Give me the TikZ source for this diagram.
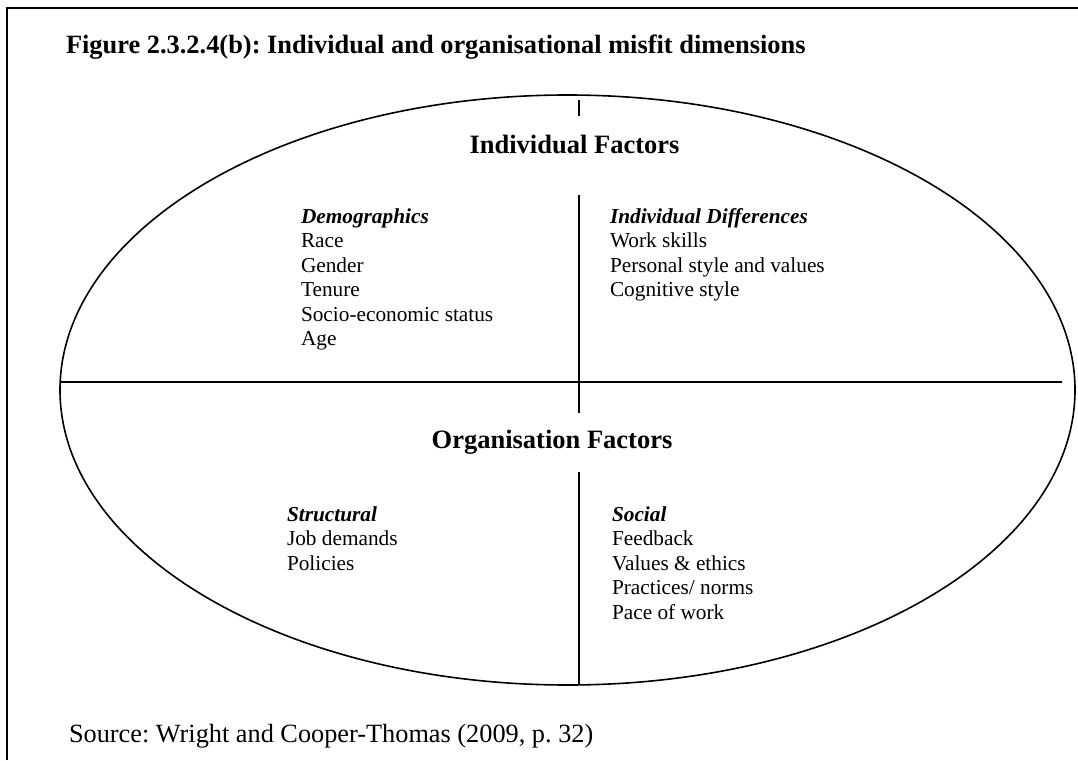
\documentclass[tikz,border=0pt]{standalone}
\usepackage{fontspec}
\setmainfont{Liberation Serif}
\frenchspacing
\begin{document}
\begin{tikzpicture}[x=1pt,y=-1pt,
  every node/.style={inner sep=0pt, outer sep=0pt},
  rule/.style={line width=1.3pt, black},
  oval/.style={line width=1.6pt, black},
  head/.style={font=\fontsize{26.5}{30}\selectfont\bfseries, anchor=base},
  title/.style={font=\fontsize{26.4}{30}\selectfont\bfseries, anchor=base west},
  sub/.style={font=\fontsize{21.3}{24.5}\selectfont\bfseries\itshape, anchor=base west},
  item/.style={font=\fontsize{21.3}{24.5}\selectfont, anchor=base west},
  src/.style={font=\fontsize{26.3}{30}\selectfont, anchor=base west}]
\useasboundingbox (0,0) rectangle (1078,760);
% frame
\draw[line width=1.6pt] (7,760) -- (7,8) -- (1078,8);
% title
\node[title] (title) at (66,53) {Figure 2.3.2.4(b): Individual and organisational misfit dimensions};
% ellipse
\draw[oval] (567.5,390) ellipse [x radius=507.5, y radius=295];
\coordinate (hl) at (60,382);
\coordinate (hr) at (1062,382);
\draw[rule] (hl) -- (hr);
% vertical pieces
\coordinate (t1) at (579,100); \coordinate (t2) at (579,116);
\coordinate (v1) at (579,195); \coordinate (v2) at (579,413);
\coordinate (v3) at (579,472); \coordinate (v4) at (579,685);
\draw[rule] (t1) -- (t2);
\draw[rule] (v1) -- (v2);
\draw[rule] (v3) -- (v4);
% headings
\node[head] (indf) at (574.5,153) {Individual Factors};
\node[head] (orgf) at (552,448) {Organisation Factors};
% demographics
\node[sub]  (dem) at (301,223) {Demographics};
\node[item] (d1) at (301,247.5) {Race};
\node[item] (d2) at (301,272) {Gender};
\node[item] (d3) at (301,296.5) {Tenure};
\node[item] (d4) at (301,321) {Socio-economic status};
\node[item] (d5) at (301,345.5) {Age};
% individual differences
\node[sub]  (idf) at (610,223) {Individual Differences};
\node[item] (i1) at (610,247.5) {Work skills};
\node[item] (i2) at (610,272) {Personal style and values};
\node[item] (i3) at (610,296.5) {Cognitive style};
% structural
\node[sub]  (str) at (287,521) {Structural};
\node[item] (s1) at (287,545.5) {Job demands};
\node[item] (s2) at (287,570) {Policies};
% social
\node[sub]  (soc) at (612,521) {Social};
\node[item] (o1) at (612,545.5) {Feedback};
\node[item] (o2) at (612,570) {Values \& ethics};
\node[item] (o3) at (612,594.5) {Practices/ norms};
\node[item] (o4) at (612,619) {Pace of work};
% source
\node[src] (source) at (69,742) {Source: Wright and Cooper-Thomas (2009, p. 32)};
\end{tikzpicture}
\end{document}
